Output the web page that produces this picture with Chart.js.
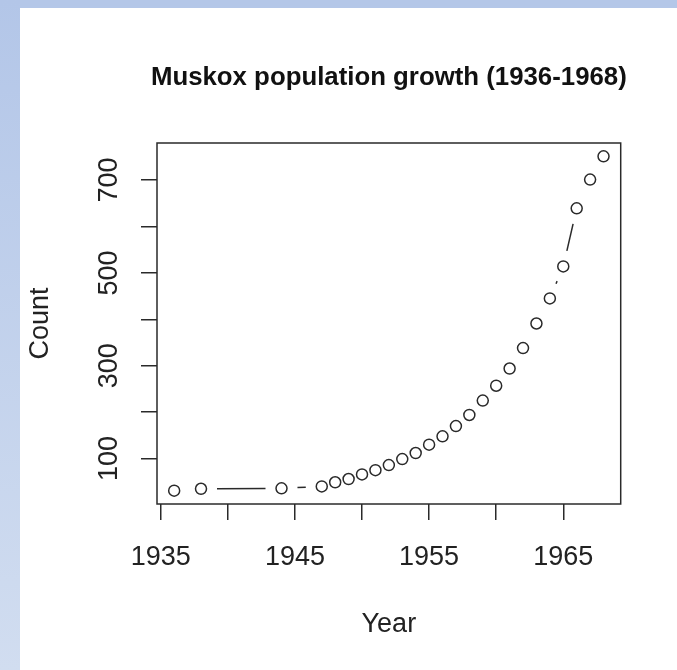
<!DOCTYPE html>
<html>
<head>
<meta charset="utf-8">
<script src="https://cdn.jsdelivr.net/npm/chart.js@4/dist/chart.umd.min.js"></script>
<style>
  html, body { margin: 0; padding: 0; width: 677px; height: 670px; overflow: hidden; background: #ffffff; }
  #topband { position: absolute; left: 0; top: 0; width: 677px; height: 8px; background: #b4c7e8; }
  #leftband { position: absolute; left: 0; top: 0; width: 20px; height: 670px;
              background: linear-gradient(to bottom, #b3c6e8, #d1ddf0); }
  #wrap { position: absolute; left: 0; top: 0; width: 677px; height: 670px; }
</style>
</head>
<body>
<div id="topband"></div>
<div id="leftband"></div>
<div id="wrap"><canvas id="c" width="677" height="670"></canvas></div>
<script>
// Muskox counts by survey year
const years  = [1936, 1938, 1944, 1947, 1948, 1949, 1950, 1951, 1952, 1953, 1954, 1955, 1956,
                1957, 1958, 1959, 1960, 1961, 1962, 1963, 1964, 1965, 1966, 1967, 1968];
const counts = [31, 35, 36, 40, 49, 56, 66, 75, 86, 99, 112, 130, 148,
                170, 194, 225, 257, 294, 338, 391, 445, 514, 639, 701, 751];

// Axis tick labels (ticks without a label stay unlabelled)
const xTickLabels = ['1935', '1945', '1955', '1965'];
const yTickLabels = ['100', '300', '500', '700'];

const TITLE = 'Muskox population growth (1936-1968)';
const FONT = '"Liberation Sans", Arial, Helvetica, sans-serif';
const INK = '#2a2a2a';

// Axis limits padded by 4% of the data range on each side
function padded(arr) {
  const lo = Math.min(...arr), hi = Math.max(...arr), d = (hi - lo) * 0.04;
  return [lo - d, hi + d];
}
const [xMin, xMax] = padded(years);
const [yMin, yMax] = padded(counts);

// Connecting segments that stop short of each point marker
const gappedLines = {
  id: 'gappedLines',
  afterDatasetsDraw(chart) {
    const pts = chart.getDatasetMeta(0).data;
    const ctx = chart.ctx, gap = 16;
    ctx.save();
    ctx.strokeStyle = INK;
    ctx.lineWidth = 1.5;
    for (let i = 1; i < pts.length; i++) {
      const a = pts[i - 1], b = pts[i];
      const dx = b.x - a.x, dy = b.y - a.y, d = Math.hypot(dx, dy);
      if (d <= 2 * gap) continue;
      const f = gap / d;
      ctx.beginPath();
      ctx.moveTo(a.x + dx * f, a.y + dy * f);
      ctx.lineTo(b.x - dx * f, b.y - dy * f);
      ctx.stroke();
    }
    ctx.restore();
  }
};

// Box around the plotting region, main title over its centre, vertical y tick labels
const frameAndLabels = {
  id: 'frameAndLabels',
  afterDraw(chart) {
    const {ctx, chartArea: ca} = chart;
    ctx.save();
    ctx.strokeStyle = INK;
    ctx.lineWidth = 1.5;
    ctx.strokeRect(ca.left, ca.top, ca.right - ca.left, ca.bottom - ca.top);

    ctx.fillStyle = '#111';
    ctx.font = 'bold 25.8px ' + FONT;
    ctx.textAlign = 'center';
    ctx.textBaseline = 'alphabetic';
    ctx.fillText(TITLE, (ca.left + ca.right) / 2, 85);

    const ys = chart.scales.y;
    ctx.fillStyle = '#222';
    ctx.font = '27px ' + FONT;
    yTickLabels.forEach(lbl => {
      const py = ys.getPixelForValue(Number(lbl));
      ctx.save();
      ctx.translate(117, py);
      ctx.rotate(-Math.PI / 2);
      ctx.fillText(lbl, 0, 0);
      ctx.restore();
    });
    ctx.restore();
  }
};

new Chart(document.getElementById('c'), {
  type: 'scatter',
  data: {
    datasets: [{
      data: years.map((y, i) => ({x: y, y: counts[i]})),
      showLine: false,
      pointStyle: 'circle',
      pointRadius: 5.5,
      pointHoverRadius: 5.5,
      pointBorderWidth: 1.5,
      pointBorderColor: INK,
      pointBackgroundColor: 'rgba(0,0,0,0)'
    }]
  },
  options: {
    responsive: false,
    animation: false,
    events: [],
    layout: { padding: { left: 0, top: 143, right: 56.3, bottom: 0 } },
    plugins: {
      legend: { display: false },
      tooltip: { enabled: false },
      title: { display: false }
    },
    scales: {
      x: {
        type: 'linear',
        min: xMin,
        max: xMax,
        afterFit(s) { s.height = 166; },
        border: { display: false },
        grid: { display: true, drawOnChartArea: false, drawTicks: true, tickLength: 16, color: INK, lineWidth: 1.5 },
        ticks: {
          stepSize: 5,
          includeBounds: false,
          autoSkip: false,
          maxRotation: 0,
          padding: 21.3,
          color: '#222',
          font: { family: FONT, size: 27 },
          callback(v) { const s = String(v); return xTickLabels.includes(s) ? s : ''; }
        },
        title: {
          display: true,
          text: 'Year',
          color: '#222',
          font: { family: FONT, size: 27, lineHeight: 1.2 },
          padding: { top: 0, bottom: 29.1 }
        }
      },
      y: {
        type: 'linear',
        min: yMin,
        max: yMax,
        afterFit(s) { s.width = 157; },
        border: { display: false },
        grid: { display: true, drawOnChartArea: false, drawTicks: true, tickLength: 16, color: INK, lineWidth: 1.5 },
        ticks: {
          stepSize: 100,
          includeBounds: false,
          autoSkip: false,
          display: true,
          color: 'rgba(0,0,0,0)',
          font: { family: FONT, size: 27 },
          callback() { return ''; }
        },
        title: {
          display: true,
          text: 'Count',
          color: '#222',
          font: { family: FONT, size: 27, lineHeight: 1.2 },
          padding: { top: 24.6, bottom: 0 }
        }
      }
    }
  },
  plugins: [gappedLines, frameAndLabels]
});
</script>
</body>
</html>
